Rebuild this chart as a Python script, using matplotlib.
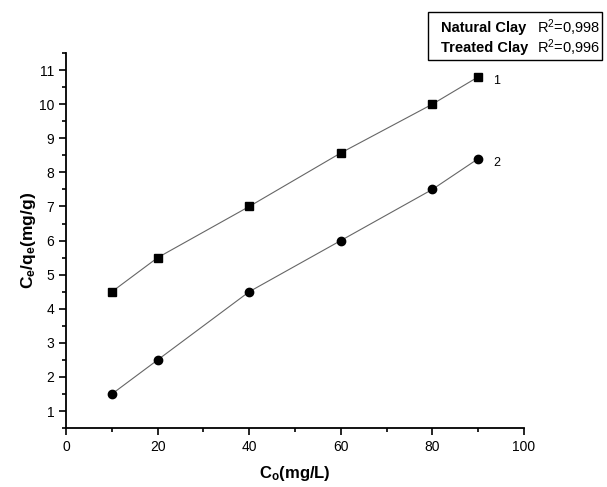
import matplotlib
matplotlib.use("Agg")
import matplotlib.pyplot as plt
from matplotlib.patches import Rectangle
from matplotlib.ticker import MultipleLocator

plt.rcParams['font.family'] = ['Liberation Sans', 'DejaVu Sans']
plt.rcParams['mathtext.fontset'] = 'custom'
plt.rcParams['mathtext.rm'] = 'Liberation Sans'
plt.rcParams['mathtext.it'] = 'Liberation Sans'
plt.rcParams['mathtext.bf'] = 'Liberation Sans:bold'

# data
c0 = [10, 20, 40, 60, 80, 90]
natural_clay = [4.5, 5.5, 7.0, 8.57, 10.0, 10.8]
treated_clay = [1.5, 2.5, 4.5, 6.0, 7.5, 8.4]
series_names = ['Natural Clay', 'Treated Clay']
r2_labels = ['0,998', '0,996']
curve_ids = ['1', '2']

fig = plt.figure(figsize=(6.07, 4.87), dpi=100)
ax = fig.add_axes([0.109, 0.121, 0.754, 0.77])

ax.plot(c0, natural_clay, color='#666666', lw=0.8, marker='s', ms=5.5,
        mfc='black', mec='black')
ax.plot(c0, treated_clay, color='#666666', lw=0.8, marker='o', ms=6,
        mfc='black', mec='black')

# curve numbers next to last points
for ys, cid in zip([natural_clay, treated_clay], curve_ids):
    ax.annotate(cid, (c0[-1], ys[-1]), xytext=(11, -3), textcoords='offset points',
                fontsize=9, va='center', ha='left')

ax.set_xlim(0, 100)
ax.set_ylim(0.5, 11.5)
ax.xaxis.set_major_locator(MultipleLocator(20))
ax.xaxis.set_minor_locator(MultipleLocator(10))
ax.yaxis.set_major_locator(MultipleLocator(1))
ax.yaxis.set_minor_locator(MultipleLocator(0.5))
ax.spines['top'].set_visible(False)
ax.spines['right'].set_visible(False)
for s in ['left', 'bottom']:
    ax.spines[s].set_linewidth(1.3)
ax.tick_params(which='major', direction='out', length=5, width=1.2, labelsize=10)
ax.tick_params(which='minor', direction='out', length=3, width=1.2)

ax.set_xlabel(r'C$_\mathbf{o}$(mg/L)', fontsize=12, fontweight='bold', labelpad=7)
ax.set_ylabel(r'C$_\mathbf{e}$/q$_\mathbf{e}$(mg/g)', fontsize=12.5, fontweight='bold', labelpad=1)

# legend-like box top right
W, H = 607, 487
fig.patches.append(Rectangle((428 / W, 1 - 60 / H), 174 / W, 48 / H,
                             transform=fig.transFigure, fill=False,
                             edgecolor='black', lw=1.0))
for i, (name, r2) in enumerate(zip(series_names, r2_labels)):
    yy = 1 - (28 + 20 * i) / H
    fig.text(441 / W, yy, name, fontsize=10.5, fontweight='bold', va='center')
    fig.text(537 / W, yy, 'R$^2$=' + r2, fontsize=10.5, va='center')

fig.savefig('out.png', dpi=100)
